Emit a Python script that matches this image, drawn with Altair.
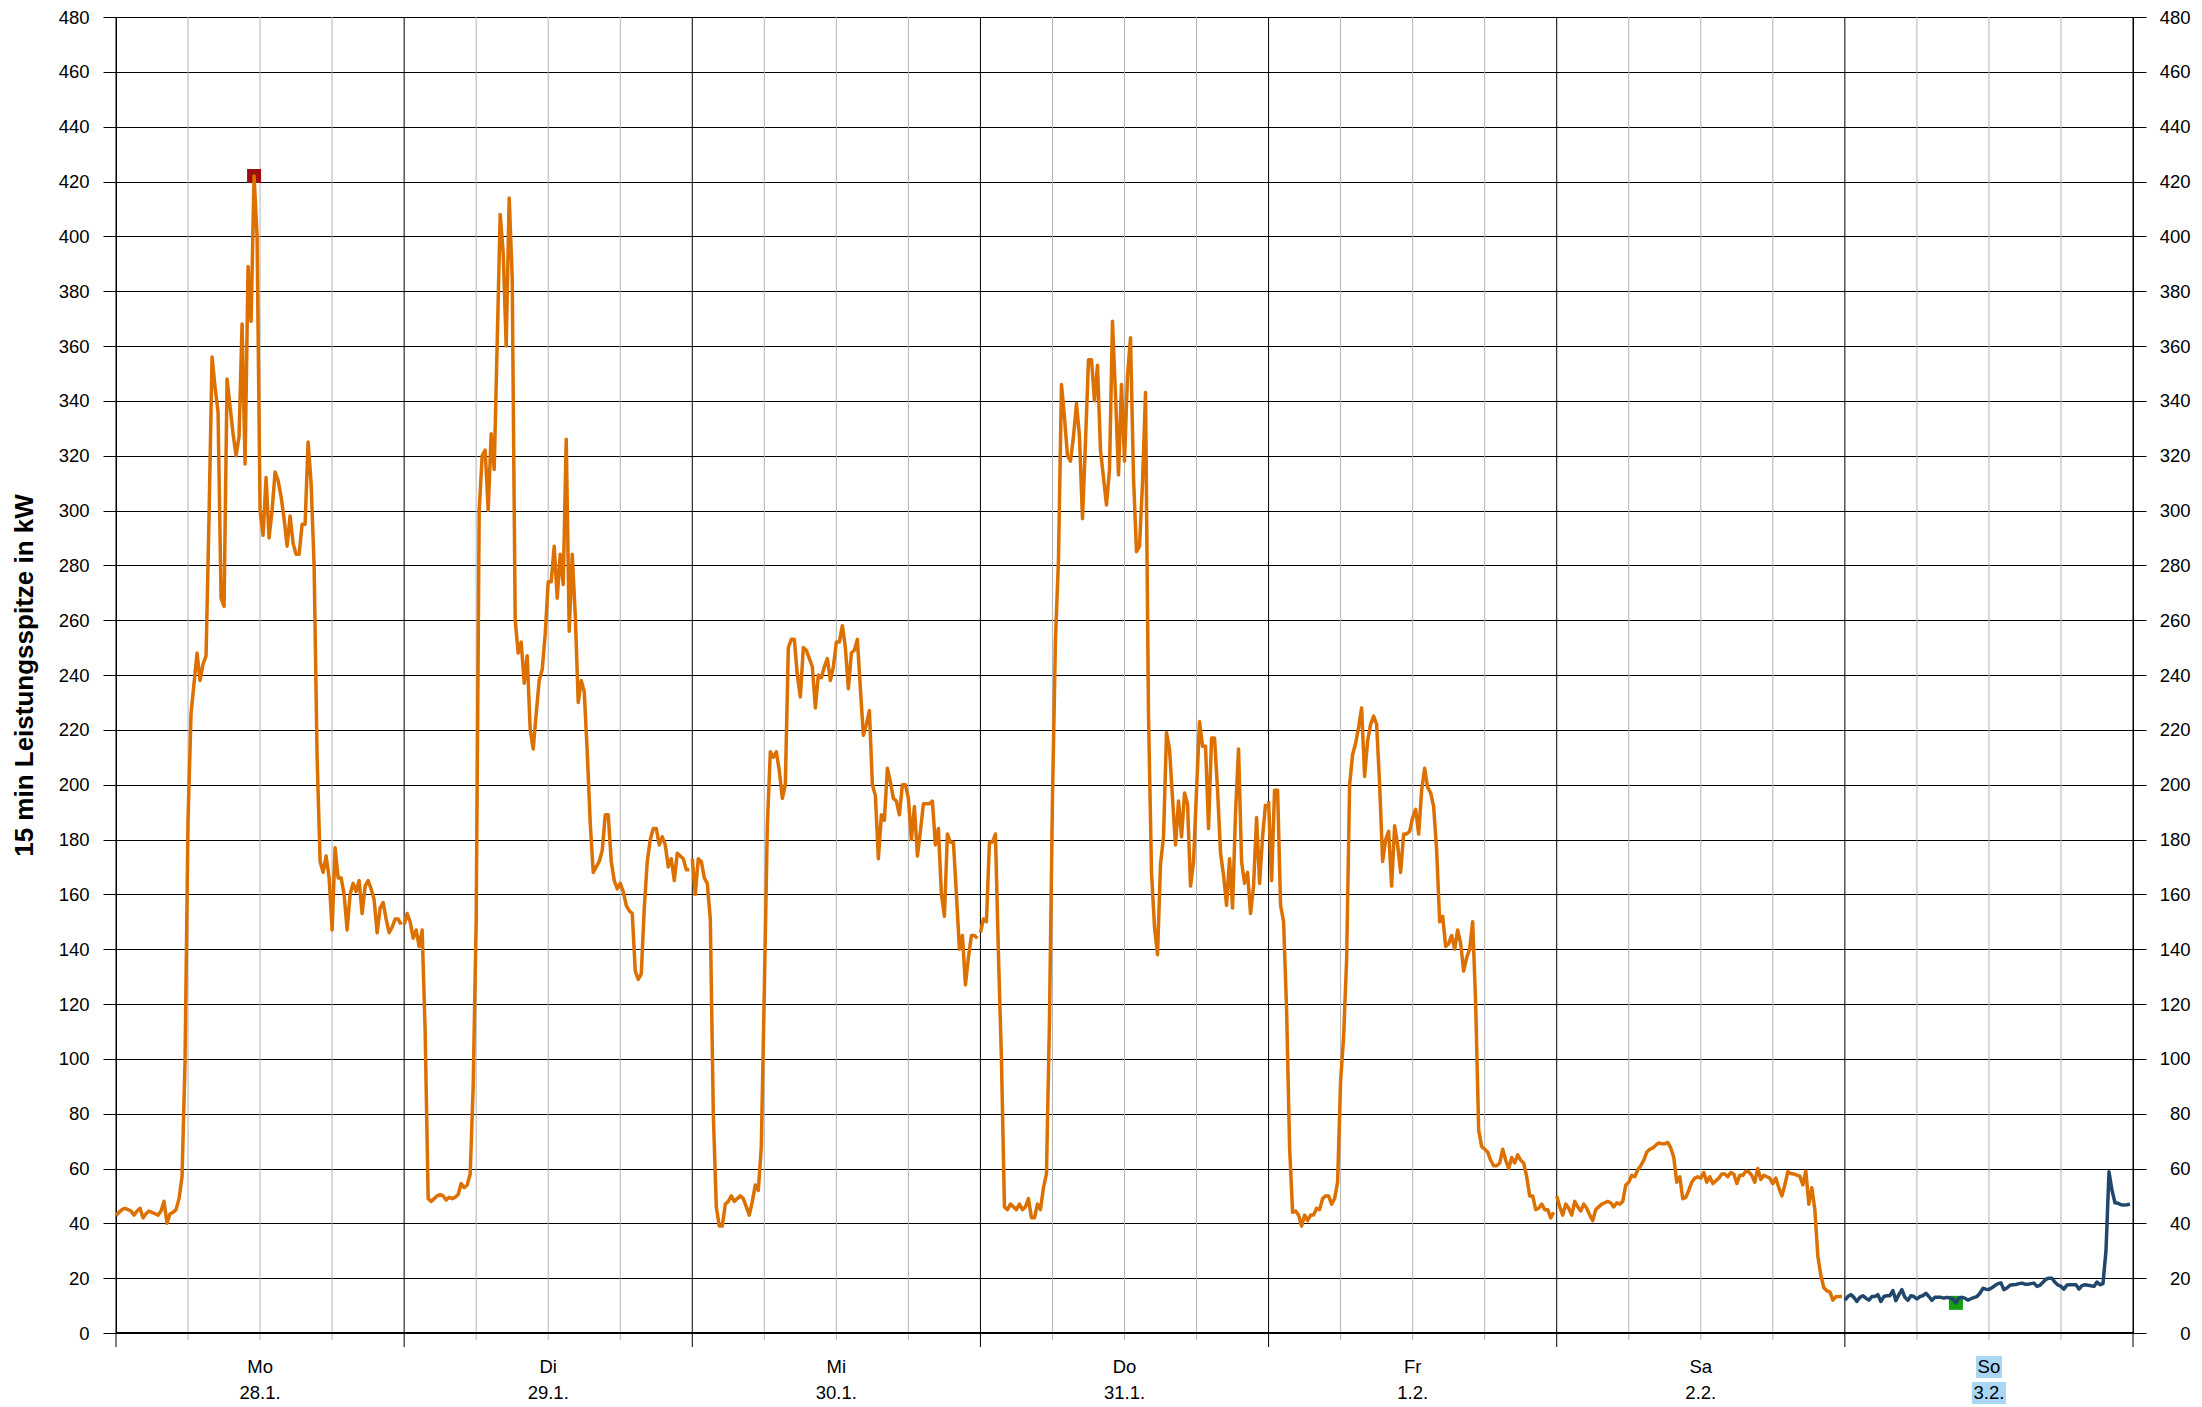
import altair as alt
import pandas as pd

# ---------------- data ----------------
days = ["Mo", "Di", "Mi", "Do", "Fr", "Sa", "So"]
dates = ["28.1.", "29.1.", "30.1.", "31.1.", "1.2.", "2.2.", "3.2."]
y_ticks = list(range(0, 481, 20))

# 15-min peak values per day (96 per day, 00:00 ... 23:45), kW
mo = [43, 44, 45, 45.5, 45, 44.5, 43, 44.5, 45.5, 42, 43.5, 44.5,
      44, 43.5, 43, 44.5, 48, 40, 43.5, 44, 45, 49, 57, 99,
      187, 226, 237, 248, 238, 244, 247, 298, 356, 345, 336, 268,
      265, 348, 338, 328, 320, 327, 368, 317, 389, 369, 422, 400,
      300, 291, 312, 290, 300, 314, 311, 305, 297, 287, 298, 288,
      284, 284, 295, 295, 325, 310, 280, 210, 172, 168, 174, 166,
      147, 177, 166, 166, 160, 147, 160, 164, 161, 165, 153, 163,
      165, 162, 158, 146, 155, 157, 151, 146, 148, 151, 151, 149]
di = [149, 153, 150, 144, 147, 141, 147, 110, 49, 48, 49, 50,
      50.5, 50, 48.5, 49.5, 49, 49.5, 50.5, 54.5, 53, 54, 58, 90,
      150, 300, 320, 322, 300, 328, 315, 361, 408, 394, 360, 414,
      385, 260, 248, 252, 237, 247, 220, 213, 226, 238, 242, 255,
      274, 274, 287, 268, 284, 273, 326, 256, 284, 262, 230, 238,
      234, 212, 186, 168, 170, 172, 176, 189, 189, 172, 165, 162,
      164, 161, 156, 154, 153, 132, 129, 131, 155, 172, 180, 184,
      184, 178, 181, 178, 170, 173, 165, 175, 174, 173, 169, 169]
mi = [173, 160, 173, 172, 166, 164, 151, 80, 46, 39, 39, 47,
      48, 50, 48, 49, 50, 49, 46, 43, 48, 54, 52, 68,
      125, 185, 212, 210, 212, 205, 195, 200, 250, 253, 253, 240,
      232, 250, 249, 246, 243, 228, 240, 239, 243, 246, 238, 243,
      252, 252, 258, 250, 235, 248, 249, 253, 235, 218, 222, 227,
      200, 196, 173, 189, 187, 206, 201, 195, 194, 189, 200, 200,
      195, 180, 192, 174, 183, 193, 193, 193, 194, 178, 184, 160,
      152, 182, 179, 179, 160, 140, 145, 127, 137, 145, 145, 144]
do = [146, 151, 150, 179, 179, 182, 138, 100, 46, 45, 47, 46,
      45, 47, 45, 46, 49, 42, 42, 47, 45, 53, 58, 114,
      195, 253, 282, 346, 334, 320, 318, 327, 339, 327, 297, 325,
      355, 355, 340, 353, 322, 312, 302, 315, 369, 342, 313, 346,
      318, 349, 363, 312, 285, 287, 310, 343, 225, 168, 148, 138,
      171, 181, 219, 213, 195, 178, 194, 181, 197, 193, 163, 172,
      198, 223, 214, 214, 184, 217, 217, 198, 175, 167, 156, 173,
      155, 190, 213, 172, 164, 168, 153, 163, 188, 164, 181, 193]
fr = [194, 165, 198, 198, 156, 150, 118, 68, 44, 44.5, 43, 39,
      43, 41, 43, 43, 45.5, 45, 49, 50, 50, 47, 49, 55,
      92, 108, 136, 200, 211, 215, 221, 228, 203, 216, 222, 225,
      222, 200, 172, 180, 183, 163, 185, 178, 168, 182, 182, 183,
      188, 191, 182, 198, 206, 199, 197, 192, 176, 150, 152, 141,
      142, 145, 140, 147, 142, 132, 137, 140, 150, 120, 74, 68,
      67, 66, 63, 61, 61, 62, 67, 63, 60, 64, 62, 65,
      63, 62, 57, 50, 50, 45, 45.5, 47, 45, 45, 42, 44]
sa = [50, 46, 43, 47, 45.5, 43, 48, 46, 44.5, 47, 45.5, 43,
      41, 45, 46, 47, 47.5, 48, 47.5, 46, 47.5, 47, 48, 54,
      55, 57.5, 57, 59.5, 61, 63, 66, 67, 67.5, 68.5, 69.3, 69,
      69, 69.5, 67.5, 64, 55, 57, 49, 49.5, 52, 55, 56.5, 57,
      56.5, 58.5, 55, 57, 54.5, 55.5, 56.5, 58, 58, 57, 58.5, 58,
      54.5, 57.5, 57.5, 59, 58.8, 57.5, 55, 60, 56, 57.5, 57, 56.5,
      54.5, 56.5, 53, 50, 54, 58.8, 58.2, 58, 57.6, 57.2, 54, 59,
      47, 53, 45, 28, 21, 16.5, 15.4, 15, 12, 13.2, 13.3, 13.3]
so = [12, 13.3, 14, 13, 11.5, 13, 13.6, 12.7, 12, 13.3, 13.3, 14,
      11.5, 13.3, 13.6, 13.6, 15.5, 11.8, 14, 15.8, 13, 11.9, 13.6, 13.3,
      12.4, 13.3, 13.6, 14.5, 13.3, 11.9, 13, 13, 13, 12.7, 13, 12.8,
      12.4, 11, 12.8, 13, 12.7, 12, 12.5, 12.9, 13.3, 14.5, 16.3, 16,
      15.9, 16.5, 17.3, 18, 18.3, 15.8, 16.4, 17.4, 17.6, 17.7, 18, 18.2,
      17.8, 17.8, 18, 18.2, 17, 17.4, 18.5, 19.6, 20, 20, 18.5, 17.5,
      17, 16, 17.5, 17.6, 17.6, 17.6, 16, 17.3, 17.6, 17.4, 17.2, 17,
      18.6, 17.6, 18, 30, 58.8, 52, 47.5, 47.3, 46.8, 46.7, 46.8, 47]

week = [mo, di, mi, do, fr, sa, so]

# ---------------- styling ----------------
ORANGE = "#dc7000"
BLUE = "#22476d"
RED = "#9c1010"
GREEN = "#12a012"
HILITE = "#a9d6f2"
FONT = "Liberation Sans"
W, H = 2017, 1316

rows = []
for d, vals in enumerate(week):
    for i, v in enumerate(vals):
        rows.append({"t": d * 24 + i * 0.25, "v": v, "day": days[d],
                     "s": "so" if d == 6 else "wk"})
line_df = pd.DataFrame(rows)

wk_df = line_df[line_df.s == "wk"]
so_df = line_df[line_df.s == "so"]
mx = wk_df.loc[wk_df.v.idxmax()]
mn = so_df.loc[so_df.v.idxmin()]
mark_df = pd.DataFrame({"t": [mx.t, mn.t], "v": [mx.v, mn.v], "c": [RED, GREEN]})

grid6 = pd.DataFrame({"h": [h for h in range(0, 169, 6) if h % 24]})
grid24 = pd.DataFrame({"h": list(range(0, 169, 24))})
lab_df = pd.DataFrame({"mid": [d * 24 + 12 for d in range(7)], "day": days, "date": dates})
hl_df = lab_df[lab_df.day == "So"]

xs = alt.Scale(domain=[0, 168], nice=False, zero=False)
ys = alt.Scale(domain=[0, 480], nice=False, zero=True)

left_axis = alt.Axis(values=y_ticks, orient="left", grid=True, gridColor="black", gridWidth=1,
                     tickSize=13, tickColor="black", tickWidth=1, domain=True, domainColor="black",
                     domainWidth=1, labelFont=FONT, labelFontSize=18.5, labelColor="black",
                     labelPadding=14, labelFlush=False, labelOverlap=False, labelBound=False,
                     title="15 min Leistungsspitze in kW", titleFont=FONT, titleFontSize=26,
                     titleFontWeight="bold", titleColor="black", titleX=-92, titleY=H / 2,
                     titleAngle=270, titleAlign="center", titleBaseline="middle")
right_axis = alt.Axis(values=y_ticks, orient="right", grid=False, tickSize=13, tickColor="black",
                      tickWidth=1, domain=True, domainColor="black", domainWidth=1,
                      labelFont=FONT, labelFontSize=18.5, labelColor="black", labelAlign="right",
                      labelPadding=44, labelFlush=False, labelOverlap=False, labelBound=False,
                      title="")

g6 = alt.Chart(grid6).mark_rule(color="#b3b3b3", strokeWidth=1).encode(
    x=alt.X("h:Q", scale=xs, axis=None), y=alt.value(0), y2=alt.value(H + 7))
g24 = alt.Chart(grid24).mark_rule(color="black", strokeWidth=1).encode(
    x=alt.X("h:Q", scale=xs, axis=None), y=alt.value(0), y2=alt.value(H + 14))
base0 = alt.Chart(pd.DataFrame({"v": [0]})).mark_rule(color="black", strokeWidth=2).encode(
    y=alt.Y("v:Q", scale=ys, axis=None), x=alt.value(0), x2=alt.value(W))

hl1 = alt.Chart(hl_df).mark_rect(color=HILITE, xOffset=-13, x2Offset=13).encode(
    x=alt.X("mid:Q", scale=xs, axis=None), x2="mid:Q", y=alt.value(H + 23), y2=alt.value(H + 45))
hl2 = alt.Chart(hl_df).mark_rect(color=HILITE, xOffset=-17, x2Offset=17).encode(
    x=alt.X("mid:Q", scale=xs, axis=None), x2="mid:Q", y=alt.value(H + 49), y2=alt.value(H + 71))
t1 = alt.Chart(lab_df).mark_text(font=FONT, fontSize=18.5, color="black", baseline="middle").encode(
    x=alt.X("mid:Q", scale=xs, axis=None), y=alt.value(H + 34), text="day:N")
t2 = alt.Chart(lab_df).mark_text(font=FONT, fontSize=18.5, color="black", baseline="middle").encode(
    x=alt.X("mid:Q", scale=xs, axis=None), y=alt.value(H + 60), text="date:N")

markers = alt.Chart(mark_df).mark_square(size=196, opacity=1).encode(
    x=alt.X("t:Q", scale=xs, axis=None), y=alt.Y("v:Q", scale=ys, axis=None),
    color=alt.Color("c:N", scale=None))

line = alt.Chart(line_df).mark_line(strokeWidth=3.5, strokeJoin="round").encode(
    x=alt.X("t:Q", scale=xs, axis=None),
    y=alt.Y("v:Q", scale=ys, axis=left_axis),
    color=alt.Color("s:N", scale=alt.Scale(domain=["wk", "so"], range=[ORANGE, BLUE]), legend=None),
    detail="day:N")

right = alt.Chart(pd.DataFrame({"v": y_ticks})).mark_point(opacity=0).encode(
    y=alt.Y("v:Q", scale=ys, axis=right_axis), x=alt.value(0))

chart = alt.layer(g6, g24, base0, hl1, hl2, t1, t2, markers, line, right).resolve_axis(
    y="independent").properties(
    width=W, height=H, autosize="none",
    padding={"left": 108, "top": 9, "right": 61, "bottom": 72},
    background="white").configure_view(strokeWidth=0)

chart.save("out.html", embed_options={"renderer": "svg", "actions": False})
